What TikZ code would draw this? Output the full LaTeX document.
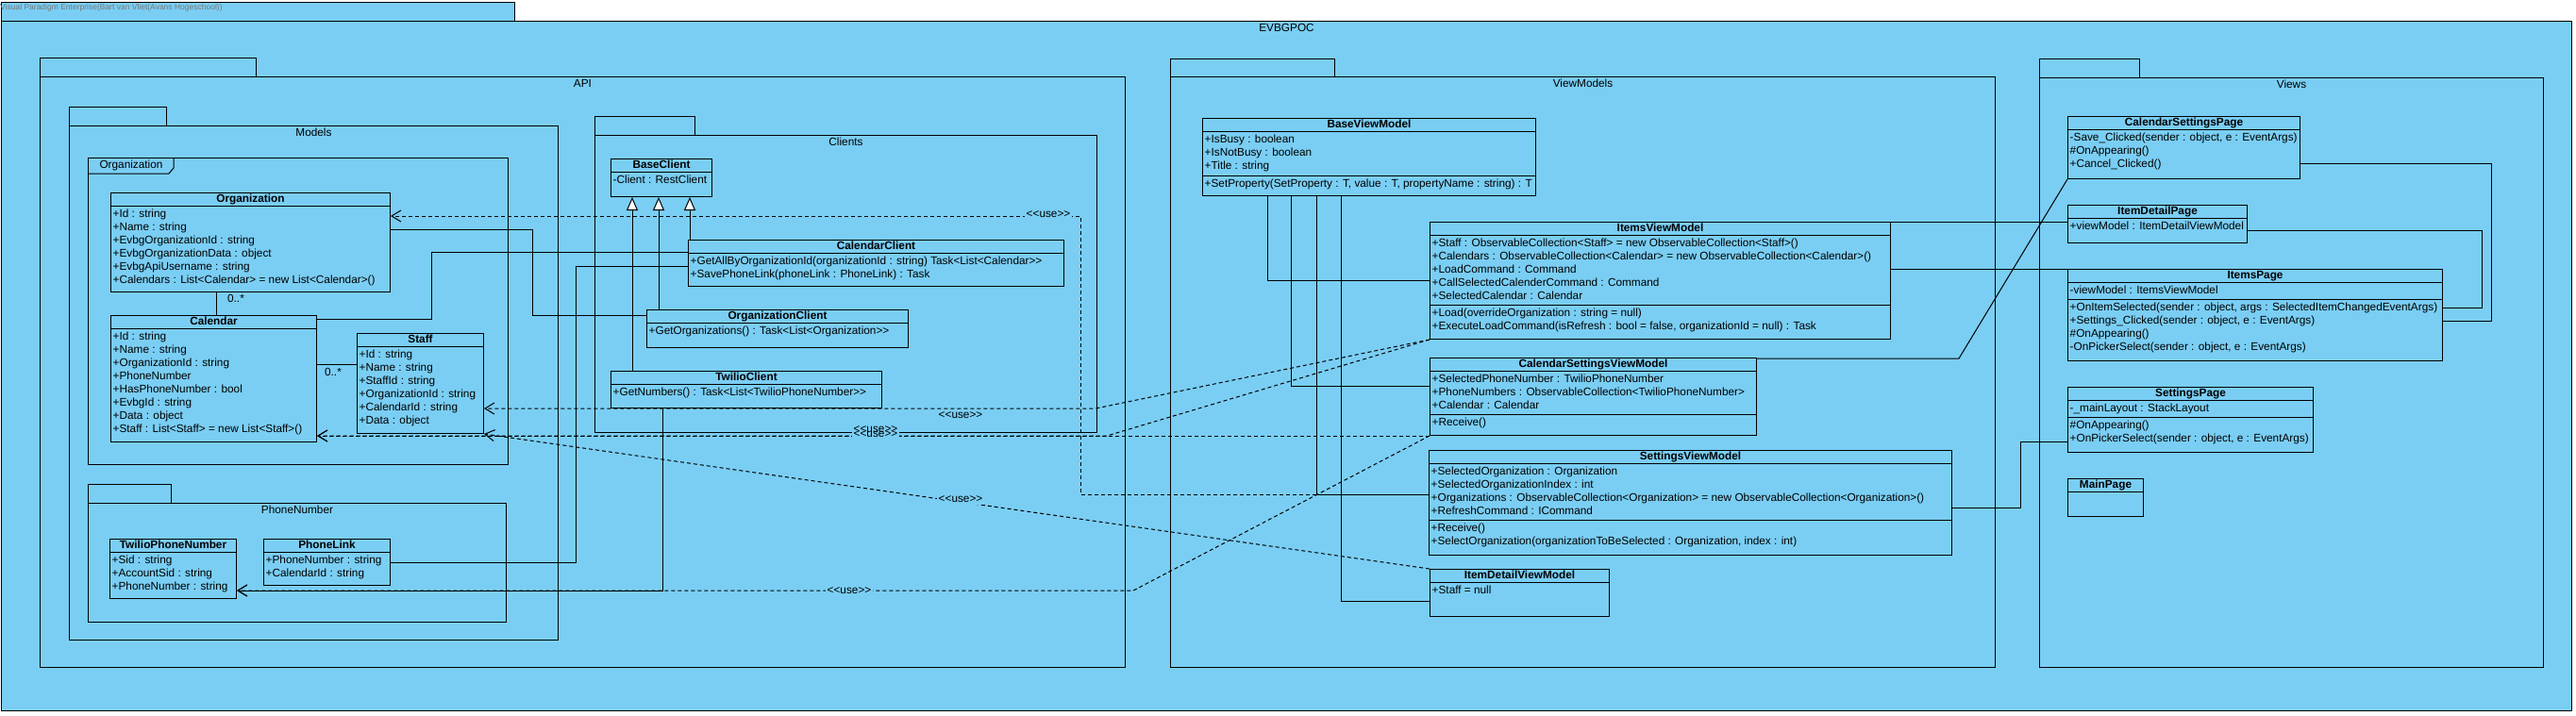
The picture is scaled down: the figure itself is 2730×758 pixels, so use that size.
\documentclass[tikz,border=0pt]{standalone}
\usepackage{fontspec}
\setmainfont{Liberation Sans}[Ligatures=TeXOff]
\usetikzlibrary{arrows.meta}
\definecolor{vpblue}{RGB}{122,206,244}
\definecolor{vpgray}{RGB}{120,120,120}
\newcommand{\umlfont}{\fontsize{11.8}{14}\selectfont}
\tikzset{
  pkg/.style={draw, fill=vpblue, line width=1pt, anchor=north west, inner sep=0pt},
  pkgname/.style={inner sep=0pt, text height=8.5pt, text depth=2.5pt},
  cls/.style={draw, fill=vpblue, line width=1pt, anchor=north west, inner sep=0pt},
  clsname/.style={font=\umlfont\bfseries, inner sep=0pt, text height=8.5pt, text depth=2.5pt},
  rows/.style={anchor=north west, inner sep=0pt, align=left},
  link/.style={line width=1pt},
  nav/.style={link, -{Straight Barb[length=10pt, width=12pt]}},
  use/.style={nav, dash pattern=on 4pt off 3pt},
  uselbl/.style={fill=vpblue, inner sep=2pt},
  gen/.style={link, -{Triangle[fill=white, length=14pt, width=12pt]}},
  mult/.style={inner sep=0pt},
}
\begin{document}
\begin{tikzpicture}[x=1pt, y=-1pt, font=\umlfont]
    \useasboundingbox (0,0) rectangle (2730,758);
    % packages
    \node[pkg, minimum width=544, minimum height=20] (titletab) at (1,2) {};
    \node[anchor=west, inner sep=0pt, text=vpgray, font=\fontsize{8.5}{10}\selectfont] (title) at (0,8) {Visual Paradigm Enterprise(Bart van Vliet(Avans Hogeschool))};
    \node[pkg, minimum width=2724, minimum height=731] (evbg) at (1,22) {};
    \node[pkgname] (evbgT) at ([yshift=-8pt]evbg.north) {EVBGPOC};
    \node[pkg, minimum width=229, minimum height=20] (apitab) at (42,61) {};
    \node[pkg, minimum width=1150, minimum height=626] (api) at (42,81) {};
    \node[pkgname] (apiT) at ([yshift=-8pt]api.north) {API};
    \node[pkg, minimum width=103, minimum height=20] (modtab) at (73,113) {};
    \node[pkg, minimum width=518, minimum height=545] (mod) at (73,133) {};
    \node[pkgname] (modT) at ([yshift=-8pt]mod.north) {Models};
    \node[pkg, minimum width=445, minimum height=325] (orgfr) at (93,167) {};
    \draw[link] (93,184) -- (179,184) -- (184,178) -- (184,167);
    \node[pkgname] (orgfrT) at (139,175) {Organization};
    \node[pkg, minimum width=88, minimum height=20] (phntab) at (93,513) {};
    \node[pkg, minimum width=443, minimum height=126] (phn) at (93,533) {};
    \node[pkgname] (phnT) at ([yshift=-8pt]phn.north) {PhoneNumber};
    \node[pkg, minimum width=106, minimum height=20] (clitab) at (630,123) {};
    \node[pkg, minimum width=532, minimum height=315] (cli) at (630,143) {};
    \node[pkgname] (cliT) at ([yshift=-8pt]cli.north) {Clients};
    \node[pkg, minimum width=174, minimum height=19] (vmtab) at (1240,62) {};
    \node[pkg, minimum width=874, minimum height=626] (vm) at (1240,81) {};
    \node[pkgname] (vmT) at ([yshift=-8pt]vm.north) {ViewModels};
    \node[pkg, minimum width=106, minimum height=20] (vwtab) at (2161,62) {};
    \node[pkg, minimum width=534, minimum height=625] (vw) at (2161,82) {};
    \node[pkgname] (vwT) at ([yshift=-8pt]vw.north) {Views};

    % Models
    \node[cls, minimum width=296, minimum height=105] (org) at (117,204) {};
    \node[clsname] (orgT) at ([yshift=-7pt]org.north) {Organization};
    \draw[link] ([yshift=-14pt]org.north west) -- ([yshift=-14pt]org.north east);
    \node[rows] (orgA) at ([xshift=2.5pt, yshift=-17.5pt]org.north west) {+Id : string\\+Name : string\\+EvbgOrganizationId : string\\+EvbgOrganizationData : object\\+EvbgApiUsername : string\\+Calendars : List<Calendar> = new List<Calendar>()};

    \node[cls, minimum width=218, minimum height=134] (cal) at (117,334) {};
    \node[clsname] (calT) at ([yshift=-7pt]cal.north) {Calendar};
    \draw[link] ([yshift=-14pt]cal.north west) -- ([yshift=-14pt]cal.north east);
    \node[rows] (calA) at ([xshift=2.5pt, yshift=-17.5pt]cal.north west) {+Id : string\\+Name : string\\+OrganizationId : string\\+PhoneNumber\\+HasPhoneNumber : bool\\+EvbgId : string\\+Data : object\\+Staff : List<Staff> = new List<Staff>()};

    \node[cls, minimum width=134, minimum height=106] (staff) at (378,353) {};
    \node[clsname] (staffT) at ([yshift=-7pt]staff.north) {Staff};
    \draw[link] ([yshift=-14pt]staff.north west) -- ([yshift=-14pt]staff.north east);
    \node[rows] (staffA) at ([xshift=2.5pt, yshift=-17.5pt]staff.north west) {+Id : string\\+Name : string\\+StaffId : string\\+OrganizationId : string\\+CalendarId : string\\+Data : object};

    \node[cls, minimum width=134, minimum height=63] (twpn) at (116,571) {};
    \node[clsname] (twpnT) at ([yshift=-7pt]twpn.north) {TwilioPhoneNumber};
    \draw[link] ([yshift=-14pt]twpn.north west) -- ([yshift=-14pt]twpn.north east);
    \node[rows] (twpnA) at ([xshift=2.5pt, yshift=-17.5pt]twpn.north west) {+Sid : string\\+AccountSid : string\\+PhoneNumber : string};

    \node[cls, minimum width=134, minimum height=49] (plink) at (279,571) {};
    \node[clsname] (plinkT) at ([yshift=-7pt]plink.north) {PhoneLink};
    \draw[link] ([yshift=-14pt]plink.north west) -- ([yshift=-14pt]plink.north east);
    \node[rows] (plinkA) at ([xshift=2.5pt, yshift=-17.5pt]plink.north west) {+PhoneNumber : string\\+CalendarId : string};

    % Clients
    \node[cls, minimum width=107, minimum height=40] (basecl) at (647,168) {};
    \node[clsname] (baseclT) at ([yshift=-7pt]basecl.north) {BaseClient};
    \draw[link] ([yshift=-14pt]basecl.north west) -- ([yshift=-14pt]basecl.north east);
    \node[rows] (baseclA) at ([xshift=2.5pt, yshift=-17.5pt]basecl.north west) {-Client : RestClient};

    \node[cls, minimum width=398, minimum height=49] (calcl) at (729,254) {};
    \node[clsname] (calclT) at ([yshift=-7pt]calcl.north) {CalendarClient};
    \draw[link] ([yshift=-14pt]calcl.north west) -- ([yshift=-14pt]calcl.north east);
    \node[rows] (calclO) at ([xshift=2.5pt, yshift=-17.5pt]calcl.north west) {+GetAllByOrganizationId(organizationId : string) Task<List<Calendar>>\\+SavePhoneLink(phoneLink : PhoneLink) : Task};

    \node[cls, minimum width=277, minimum height=40] (orgcl) at (685,328) {};
    \node[clsname] (orgclT) at ([yshift=-7pt]orgcl.north) {OrganizationClient};
    \draw[link] ([yshift=-14pt]orgcl.north west) -- ([yshift=-14pt]orgcl.north east);
    \node[rows] (orgclO) at ([xshift=2.5pt, yshift=-17.5pt]orgcl.north west) {+GetOrganizations() : Task<List<Organization>>};

    \node[cls, minimum width=287, minimum height=39] (twcl) at (647,393) {};
    \node[clsname] (twclT) at ([yshift=-7pt]twcl.north) {TwilioClient};
    \draw[link] ([yshift=-14pt]twcl.north west) -- ([yshift=-14pt]twcl.north east);
    \node[rows] (twclO) at ([xshift=2.5pt, yshift=-17.5pt]twcl.north west) {+GetNumbers() : Task<List<TwilioPhoneNumber>>};

    % ViewModels
    \node[cls, minimum width=353, minimum height=82] (basevm) at (1274,125) {};
    \node[clsname] (basevmT) at ([yshift=-7pt]basevm.north) {BaseViewModel};
    \draw[link] ([yshift=-14pt]basevm.north west) -- ([yshift=-14pt]basevm.north east);
    \node[rows] (basevmA) at ([xshift=2.5pt, yshift=-17.5pt]basevm.north west) {+IsBusy : boolean\\+IsNotBusy : boolean\\+Title : string};
    \draw[link] ([yshift=-61pt]basevm.north west) -- ([yshift=-61pt]basevm.north east);
    \node[rows] (basevmO) at ([xshift=2.5pt, yshift=-64.5pt]basevm.north west) {+SetProperty(SetProperty : T, value : T, propertyName : string) : T};

    \node[cls, minimum width=488, minimum height=124] (itemsvm) at (1515,235) {};
    \node[clsname] (itemsvmT) at ([yshift=-7pt]itemsvm.north) {ItemsViewModel};
    \draw[link] ([yshift=-14pt]itemsvm.north west) -- ([yshift=-14pt]itemsvm.north east);
    \node[rows] (itemsvmA) at ([xshift=2.5pt, yshift=-17.5pt]itemsvm.north west) {+Staff : ObservableCollection<Staff> = new ObservableCollection<Staff>()\\+Calendars : ObservableCollection<Calendar> = new ObservableCollection<Calendar>()\\+LoadCommand : Command\\+CallSelectedCalenderCommand : Command\\+SelectedCalendar : Calendar};
    \draw[link] ([yshift=-88pt]itemsvm.north west) -- ([yshift=-88pt]itemsvm.north east);
    \node[rows] (itemsvmO) at ([xshift=2.5pt, yshift=-91.5pt]itemsvm.north west) {+Load(overrideOrganization : string = null)\\+ExecuteLoadCommand(isRefresh : bool = false, organizationId = null) : Task};

    \node[cls, minimum width=346, minimum height=82] (calsetvm) at (1515,379) {};
    \node[clsname] (calsetvmT) at ([yshift=-7pt]calsetvm.north) {CalendarSettingsViewModel};
    \draw[link] ([yshift=-14pt]calsetvm.north west) -- ([yshift=-14pt]calsetvm.north east);
    \node[rows] (calsetvmA) at ([xshift=2.5pt, yshift=-17.5pt]calsetvm.north west) {+SelectedPhoneNumber : TwilioPhoneNumber\\+PhoneNumbers : ObservableCollection<TwilioPhoneNumber>\\+Calendar : Calendar};
    \draw[link] ([yshift=-60pt]calsetvm.north west) -- ([yshift=-60pt]calsetvm.north east);
    \node[rows] (calsetvmO) at ([xshift=2.5pt, yshift=-63.5pt]calsetvm.north west) {+Receive()};

    \node[cls, minimum width=554, minimum height=111] (setvm) at (1514,477) {};
    \node[clsname] (setvmT) at ([yshift=-7pt]setvm.north) {SettingsViewModel};
    \draw[link] ([yshift=-14pt]setvm.north west) -- ([yshift=-14pt]setvm.north east);
    \node[rows] (setvmA) at ([xshift=2.5pt, yshift=-17.5pt]setvm.north west) {+SelectedOrganization : Organization\\+SelectedOrganizationIndex : int\\+Organizations : ObservableCollection<Organization> = new ObservableCollection<Organization>()\\+RefreshCommand : ICommand};
    \draw[link] ([yshift=-74pt]setvm.north west) -- ([yshift=-74pt]setvm.north east);
    \node[rows] (setvmO) at ([xshift=2.5pt, yshift=-77.5pt]setvm.north west) {+Receive()\\+SelectOrganization(organizationToBeSelected : Organization, index : int)};

    \node[cls, minimum width=190, minimum height=50] (itemdvm) at (1515,603) {};
    \node[clsname] (itemdvmT) at ([yshift=-7pt]itemdvm.north) {ItemDetailViewModel};
    \draw[link] ([yshift=-14pt]itemdvm.north west) -- ([yshift=-14pt]itemdvm.north east);
    \node[rows] (itemdvmA) at ([xshift=2.5pt, yshift=-17.5pt]itemdvm.north west) {+Staff = null};

    % Views
    \node[cls, minimum width=246, minimum height=66] (calsetpg) at (2191,123) {};
    \node[clsname] (calsetpgT) at ([yshift=-7pt]calsetpg.north) {CalendarSettingsPage};
    \draw[link] ([yshift=-14pt]calsetpg.north west) -- ([yshift=-14pt]calsetpg.north east);
    \node[rows] (calsetpgO) at ([xshift=2.5pt, yshift=-17.5pt]calsetpg.north west) {-Save\_Clicked(sender : object, e : EventArgs)\\\#OnAppearing()\\+Cancel\_Clicked()};

    \node[cls, minimum width=190, minimum height=40] (itemdpg) at (2191,217) {};
    \node[clsname] (itemdpgT) at ([yshift=-7pt]itemdpg.north) {ItemDetailPage};
    \draw[link] ([yshift=-14pt]itemdpg.north west) -- ([yshift=-14pt]itemdpg.north east);
    \node[rows] (itemdpgA) at ([xshift=2.5pt, yshift=-17.5pt]itemdpg.north west) {+viewModel : ItemDetailViewModel};

    \node[cls, minimum width=397, minimum height=97] (itemspg) at (2191,285) {};
    \node[clsname] (itemspgT) at ([yshift=-7pt]itemspg.north) {ItemsPage};
    \draw[link] ([yshift=-14pt]itemspg.north west) -- ([yshift=-14pt]itemspg.north east);
    \node[rows] (itemspgA) at ([xshift=2.5pt, yshift=-17.5pt]itemspg.north west) {-viewModel : ItemsViewModel};
    \draw[link] ([yshift=-32pt]itemspg.north west) -- ([yshift=-32pt]itemspg.north east);
    \node[rows] (itemspgO) at ([xshift=2.5pt, yshift=-35.5pt]itemspg.north west) {+OnItemSelected(sender : object, args : SelectedItemChangedEventArgs)\\+Settings\_Clicked(sender : object, e : EventArgs)\\\#OnAppearing()\\-OnPickerSelect(sender : object, e : EventArgs)};

    \node[cls, minimum width=260, minimum height=69] (setpg) at (2191,410) {};
    \node[clsname] (setpgT) at ([yshift=-7pt]setpg.north) {SettingsPage};
    \draw[link] ([yshift=-14pt]setpg.north west) -- ([yshift=-14pt]setpg.north east);
    \node[rows] (setpgA) at ([xshift=2.5pt, yshift=-17.5pt]setpg.north west) {-\_mainLayout : StackLayout};
    \draw[link] ([yshift=-32pt]setpg.north west) -- ([yshift=-32pt]setpg.north east);
    \node[rows] (setpgO) at ([xshift=2.5pt, yshift=-35.5pt]setpg.north west) {\#OnAppearing()\\+OnPickerSelect(sender : object, e : EventArgs)};

    \node[cls, minimum width=80, minimum height=40] (mainpg) at (2191,507) {};
    \node[clsname] (mainpgT) at ([yshift=-7pt]mainpg.north) {MainPage};
    \draw[link] ([yshift=-14pt]mainpg.north west) -- ([yshift=-14pt]mainpg.north east);

    % associations
    \draw[link] ([xshift=112pt]org.south west) -- ([xshift=112pt]cal.north west);
    \node[mult] (m1) at (250,316) {0..*};
    \draw[link] ([yshift=-52pt]cal.north east) -- ([yshift=-33pt]staff.north west);
    \node[mult] (m2) at (353,394) {0..*};
    \draw[link] ([yshift=-4pt]cal.north east) -- (457,338) |- ([yshift=-13pt]calcl.north west);
    \draw[link] ([yshift=-39pt]org.north east) -- (564,243) |- ([yshift=-6pt]orgcl.north west);
    \draw[link] ([yshift=-25pt]plink.north east) -- (610,596) |- ([yshift=-28pt]calcl.north west);
    \draw[nav] ([xshift=55pt]twcl.south west) |- ([yshift=-55pt]twpn.north east);
    \draw[gen] ([xshift=23pt]twcl.north west) -- ([xshift=23pt]basecl.south west);
    \draw[gen] ([xshift=13pt]orgcl.north west) -- ([xshift=51pt]basecl.south west);
    \draw[gen] ([xshift=2pt]calcl.north west) -- ([xshift=84pt]basecl.south west);

    \draw[link] ([xshift=69pt]basevm.south west) |- ([yshift=-62pt]itemsvm.north west);
    \draw[link] ([xshift=94pt]basevm.south west) |- ([yshift=-30pt]calsetvm.north west);
    \draw[link] ([xshift=121pt]basevm.south west) |- ([yshift=-47pt]setvm.north west);
    \draw[link] ([xshift=147pt]basevm.south west) |- ([yshift=-34pt]itemdvm.north west);

    \draw[link] (itemsvm.north east) -- ([yshift=-18pt]itemdpg.north west);
    \draw[link] ([yshift=-50pt]itemsvm.north east) -- (itemspg.north west);
    \draw[link] ([yshift=-1pt]calsetvm.north east) -- (2076,380) -- (calsetpg.south west);
    \draw[link] ([yshift=-50pt]calsetpg.north east) -- (2640,173) |- ([yshift=-55pt]itemspg.north east);
    \draw[link] ([yshift=-27pt]itemdpg.north east) -- (2630,244) |- ([yshift=-41pt]itemspg.north east);
    \draw[link] ([yshift=-61pt]setvm.north east) -- (2141,538) |- ([yshift=-58pt]setpg.north west);

    % dependencies
    \draw[use] ([yshift=-47pt]setvm.north west) -- (1145,524) -- (1145,229) -- ([yshift=-25pt]org.north east);
    \draw[use] (itemsvm.south west) -- (1161,433) -- ([yshift=-80pt]staff.north east);
    \draw[use] (itemsvm.south west) -- (1173,462) -- ([yshift=-128pt]cal.north east);
    \draw[use] (calsetvm.south west) -- ([yshift=-128pt]cal.north east);
    \draw[use] (itemdvm.north west) -- (staff.south east);
    \draw[use] (calsetvm.south west) -- (1201,626) -- ([yshift=-55pt]twpn.north east);
    \node[uselbl] (u1) at (1111,227) {<<use>>};
    \node[uselbl] (u2) at (1018,440) {<<use>>};
    \node[uselbl] (u3) at (928,460) {<<use>>};
    \node[uselbl, fill=none] (u4) at (928,455) {<<use>>};
    \node[uselbl] (u5) at (1018,529) {<<use>>};
    \node[uselbl] (u6) at (900,626) {<<use>>};
\end{tikzpicture}
\end{document}
